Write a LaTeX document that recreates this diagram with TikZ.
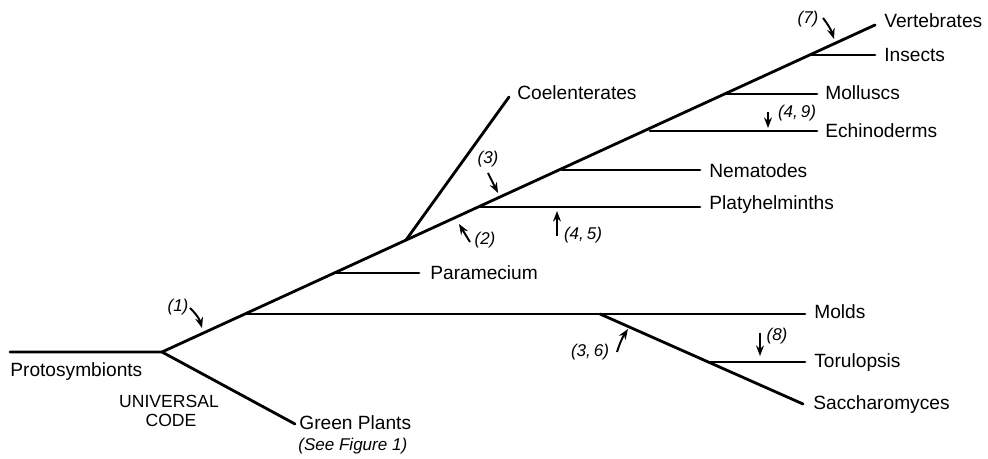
\documentclass[tikz,border=0pt]{standalone}
\usepackage{fontspec}
\setmainfont{Liberation Sans}
\usetikzlibrary{arrows.meta}
\tikzset{
  branch/.style={line width=1.6pt, line cap=round},
  taxon/.style={anchor=base west, inner sep=0pt, font=\fontsize{10.9}{13}\selectfont},
  site/.style={inner sep=0pt, font=\fontsize{9.7}{11}\selectfont\itshape},
  hint/.style={line width=1.1pt, -{Stealth[length=6pt,width=4.5pt]}}
}
\begin{document}
\begin{tikzpicture}[x=0.02cm,y=-0.02cm]
  \useasboundingbox (0,0) rectangle (988,459);
  % tree: trunk and branch points
  \coordinate (root)  at (10,352);
  \coordinate (fork)  at (162,352);
  \coordinate (moldB) at (247,314);
  \coordinate (paraB) at (335,273);
  \coordinate (coelB) at (406,240);
  \coordinate (platB) at (480,207);
  \coordinate (nemaB) at (562,170);
  \coordinate (echiB) at (650,131);
  \coordinate (mollB) at (727,94);
  \coordinate (inseB) at (810,55);
  \coordinate (vertE) at (875,25);
  % branch ends
  \coordinate (plantE) at (295,424);
  \coordinate (paraE)  at (419,273);
  \coordinate (coelE)  at (509,97);
  \coordinate (platE)  at (700,207);
  \coordinate (nemaE)  at (700,170);
  \coordinate (echiE)  at (817,131);
  \coordinate (mollE)  at (817,94);
  \coordinate (inseE)  at (875,55);
  \coordinate (moldE)  at (805,314);
  \coordinate (yeastB) at (600,314);
  \coordinate (toruB)  at (710,362);
  \coordinate (toruE)  at (805,362);
  \coordinate (saccE)  at (803,404);
  % lines
  \draw[branch] (root) -- (fork) -- (vertE);
  \draw[branch] (fork) -- (plantE);
  \draw[branch] (moldB) -- (moldE);
  \draw[branch] (yeastB) -- (saccE);
  \draw[branch] (toruB) -- (toruE);
  \draw[branch] (paraB) -- (paraE);
  \draw[branch] (coelB) -- (coelE);
  \draw[branch] (platB) -- (platE);
  \draw[branch] (nemaB) -- (nemaE);
  \draw[branch] (echiB) -- (echiE);
  \draw[branch] (mollB) -- (mollE);
  \draw[branch] (inseB) -- (inseE);
  % taxa
  \node[taxon] (proto) at (10,377) {Protosymbionts};
  \node[taxon] (plants) at (299,430) {Green Plants};
  \node[site, anchor=base west] (seefig) at (298,451) {(See Figure 1)};
  \node[anchor=base, inner sep=0pt, font=\fontsize{10}{12}\selectfont] (univ) at (169,408) {UNIVERSAL};
  \node[anchor=base, inner sep=0pt, font=\fontsize{10}{12}\selectfont] (code) at (171,427) {CODE};
  \node[taxon] (para) at (430,280) {Paramecium};
  \node[taxon] (coel) at (517,100) {Coelenterates};
  \node[taxon] (plat) at (709,210) {Platyhelminths};
  \node[taxon] (nema) at (709,178) {Nematodes};
  \node[taxon] (echi) at (825,138) {Echinoderms};
  \node[taxon] (moll) at (825,100) {Molluscs};
  \node[taxon] (inse) at (884,62) {Insects};
  \node[taxon] (vert) at (884,28) {Vertebrates};
  \node[taxon] (mold) at (814,319) {Molds};
  \node[taxon] (toru) at (814,368) {Torulopsis};
  \node[taxon] (sacc) at (813,410) {Saccharomyces};
  % numbered events
  \node[site] (s1)  at (178,307) {(1)};
  \node[site] (s2)  at (485,240) {(2)};
  \node[site] (s3)  at (488,159) {(3)};
  \node[site] (s45) at (583,235) {(4,\,5)};
  \node[site] (s7)  at (808,19)  {(7)};
  \node[site] (s49) at (797,113) {(4,\,9)};
  \node[site] (s8)  at (777,336) {(8)};
  \node[site] (s36) at (590,352) {(3,\,6)};
  \coordinate (t1) at (190,308);  \coordinate (h1) at (202,328);
  \coordinate (t2) at (470,242);  \coordinate (h2) at (459,224);
  \coordinate (t3) at (488,173);  \coordinate (h3) at (498,193);
  \coordinate (t45) at (557,236); \coordinate (h45) at (557,211);
  \coordinate (t7) at (823,18);   \coordinate (h7) at (834,39);
  \coordinate (t49) at (768,112); \coordinate (h49) at (768,128);
  \coordinate (t8) at (760,333);  \coordinate (h8) at (760,356);
  \coordinate (t36) at (617,352); \coordinate (h36) at (628,329);
  \draw[hint] (t1) to[bend left=15] (h1);
  \draw[hint] (t2) -- (h2);
  \draw[hint] (t3) -- (h3);
  \draw[hint] (t45) -- (h45);
  \draw[hint] (t7) to[bend left=10] (h7);
  \draw[hint] (t49) -- (h49);
  \draw[hint] (t8) -- (h8);
  \draw[hint] (t36) to[bend left=8] (h36);
\end{tikzpicture}
\end{document}
